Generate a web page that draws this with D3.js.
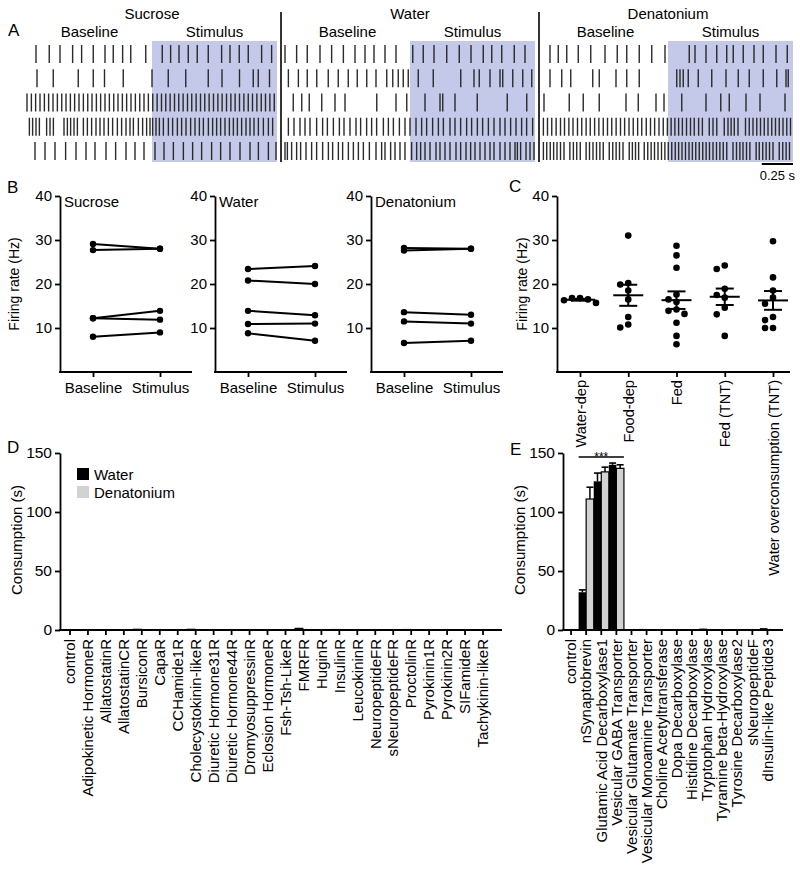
<!DOCTYPE html>
<html><head><meta charset="utf-8">
<script src="https://cdn.jsdelivr.net/npm/d3@7"></script>
<style>
body{margin:0;background:#fff}
text{font-family:"Liberation Sans",Arial,Helvetica,sans-serif;fill:#000}
</style></head><body>
<script>
// ---------------- DATA ----------------
// Panel A: spike times (s) in a 2 s window (0-1 baseline, 1-2 stimulus), 5 cells each
const sucroseSpikes = [
 [0.072,0.178,0.264,0.365,0.437,0.53,0.624,0.69,0.765,0.83,0.95,1.082,1.149,1.216,1.29,1.362,1.45,1.557,1.624,1.698,1.77,1.877,1.957],
 [0.08,0.21,0.41,0.53,0.62,0.77,1.0,1.13,1.27,1.45,1.56,1.70,1.81,1.85,1.94],
 [0.0,0.035,0.069,0.104,0.139,0.173,0.208,0.243,0.278,0.312,0.347,0.381,0.416,0.451,0.486,0.52,0.555,0.589,0.624,0.659,0.694,0.728,0.763,0.797,0.832,0.867,0.902,0.936,0.971,1.006,1.041,1.076,1.11,1.145,1.18,1.214,1.249,1.284,1.318,1.353,1.388,1.422,1.457,1.492,1.527,1.561,1.596,1.631,1.665,1.7,1.735,1.77,1.804,1.839,1.874,1.908,1.943,1.978],
 [0.019,0.045,0.072,0.099,0.157,0.184,0.211,0.296,0.323,0.349,0.376,0.403,0.451,0.483,0.517,0.552,0.584,0.616,0.651,0.685,0.723,0.757,0.792,0.824,0.851,0.891,0.925,0.957,0.984,1.005,1.032,1.059,1.091,1.131,1.165,1.203,1.237,1.272,1.309,1.344,1.379,1.411,1.451,1.485,1.517,1.549,1.584,1.619,1.651,1.683,1.717,1.752,1.784,1.816,1.851,1.891,1.931,1.965],
 [0.064,0.144,0.224,0.309,0.392,0.472,0.544,0.632,0.709,0.792,0.864,0.936,1.024,1.096,1.171,1.251,1.325,1.397,1.477,1.549,1.624,1.704,1.784,1.851,1.931,1.992]
];
const waterSpikes = [
 [0.0,0.093,0.178,0.28,0.373,0.467,0.56,0.64,0.712,0.80,0.888,1.022,1.106,1.192,1.294,1.394,1.488,1.586,1.654,1.734,1.834,1.92],
 [0.027,0.107,0.178,0.254,0.346,0.426,0.506,0.578,0.654,0.728,0.814,0.862,0.906,0.946,0.986,1.066,1.186,1.406,1.512,1.554,1.64,1.72,1.742,1.822,1.902,1.974],
 [0.066,0.134,0.194,0.294,0.40,0.48,0.734,0.888,0.974,1.12,1.24,1.262,1.36,1.538,1.778,1.934],
 [0.027,0.072,0.12,0.16,0.2,0.253,0.301,0.339,0.387,0.435,0.472,0.52,0.568,0.605,0.653,0.693,0.733,0.787,0.827,0.867,0.915,0.96,1.0,1.048,1.093,1.133,1.181,1.227,1.267,1.32,1.36,1.405,1.453,1.493,1.539,1.581,1.627,1.672,1.72,1.76,1.805,1.848,1.893,1.933,1.981],
 [0.0,0.019,0.053,0.093,0.125,0.168,0.213,0.253,0.301,0.347,0.381,0.427,0.461,0.507,0.547,0.587,0.627,0.675,0.728,0.773,0.8,0.845,0.88,0.92,0.96,1.013,1.053,1.085,1.12,1.16,1.208,1.24,1.28,1.32,1.368,1.405,1.448,1.485,1.52,1.56,1.6,1.64,1.672,1.72,1.76,1.8,1.84,1.859,1.885,1.928,1.96,1.992]
];
const denatoniumSpikes = [
 [0.056,0.122,0.19,0.282,0.382,0.496,0.594,0.67,0.77,0.87,0.976,1.17,1.216,1.304,1.39,1.47,1.522,1.602,1.688,1.762,1.864,1.954],
 [0.056,0.15,0.222,0.398,0.45,0.584,0.67,0.77,1.07,1.096,1.122,1.162,1.242,1.35,1.464,1.562,1.65,1.762,1.87,1.944,1.962],
 [0.008,0.21,0.322,0.45,0.664,0.762,0.904,0.968,1.11,1.304,1.422,1.49,1.624,1.736,1.936],
 [0.003,0.036,0.07,0.105,0.14,0.172,0.207,0.24,0.276,0.31,0.345,0.378,0.413,0.447,0.482,0.516,0.55,0.585,0.62,0.653,0.688,0.722,0.757,0.79,0.826,0.86,0.893,0.928,0.962,0.995,1.025,1.055,1.085,1.115,1.148,1.18,1.21,1.245,1.275,1.33,1.36,1.39,1.45,1.48,1.505,1.53,1.56,1.62,1.65,1.68,1.71,1.74,1.77,1.80,1.83,1.86,1.89,1.92,1.95,1.98],
 [0.003,0.03,0.058,0.085,0.112,0.14,0.168,0.215,0.243,0.27,0.298,0.345,0.372,0.4,0.428,0.455,0.482,0.53,0.558,0.585,0.612,0.64,0.69,0.715,0.74,0.765,0.81,0.838,0.865,0.892,0.92,0.948,0.975,1.002,1.03,1.058,1.085,1.112,1.14,1.168,1.195,1.222,1.25,1.278,1.305,1.332,1.36,1.388,1.415,1.442,1.47,1.52,1.548,1.575,1.6,1.628,1.655,1.705,1.73,1.758,1.785,1.812,1.84,1.89,1.918,1.945,1.972]
];
const scaleBarSeconds = 0.25;

// Panel B: firing rate (Hz), baseline vs stimulus
const phaseLabels = ['Baseline','Stimulus'];
const rateTicks = [10,20,30,40];
const sucroseBaseline = [29.1,27.7,12.2,12.2,8.0];
const sucroseStimulus = [28.0,28.0,13.9,11.9,9.0];
const waterBaseline = [23.4,20.8,13.9,10.9,8.8];
const waterStimulus = [24.1,20.0,12.9,11.0,7.1];
const denatoniumBaseline = [28.2,27.6,13.6,11.5,6.6];
const denatoniumStimulus = [28.0,28.0,13.0,11.0,7.1];

// Panel C: firing rate by state
const stateNames = ['Water-dep','Food-dep','Fed','Fed (TNT)','Water overconsumption (TNT)'];
const waterDepRates = [16.8,16.5,15.7,16.3,16.8];
const foodDepRates = [31.0,20.2,19.9,18.5,16.5,12.5,10.8,10.1];
const fedRates = [28.7,26.5,23.7,17.6,16.5,15.9,14.2,13.9,13.2,11.2,8.2,6.3];
const fedTNTRates = [24.2,23.4,18.9,17.5,16.9,14.6,13.1,8.2];
const waterOverTNTRates = [29.7,21.5,18.5,16.9,15.5,12.5,11.8,10.0,10.0];

// Panel D: neuropeptide receptor screen, consumption (s)
const consTicks = [0,50,100,150];
const seriesNames = ['Water','Denatonium'];
const dCategories = ['control','Adipokinetic HormoneR','AllatostatinR','AllatostatinCR','BursiconR','CapaR','CCHamide1R','Cholecystokinin-likeR','Diuretic Hormone31R','Diuretic Hormone44R','DromyosuppressinR','Eclosion HormoneR','Fsh-Tsh-LikeR','FMRFR','HuginR','InsulinR','LeucokininR','NeuropeptideFR','sNeuropeptideFR','ProctolinR','Pyrokinin1R','Pyrokinin2R','SIFamideR','Tachykinin-likeR'];
const dWater = [0.5,0.6,0.5,0.3,1.1,0.4,0.3,1.1,0.5,0.2,0.4,0.3,0.4,1.9,0.2,0.9,0.2,0.2,0.2,0.9,0.4,0.2,0.2,0.5];
const dDenatonium = [0.3,0.4,0.3,0.2,0.7,0.3,0.2,0.6,0.3,0.2,0.3,0.2,0.3,1.1,0.2,0.5,0.2,0.2,0.2,0.5,0.3,0.2,0.2,0.3];

// Panel E: neurotransmitter screen, consumption (s)
const eCategories = ['control','nSynaptobrevin','Glutamic Acid Decarboxylase1','Vesicular GABA Transporter','Vesicular Glutamate Transporter','Vesicular Monoamine Transporter','Choline Acetyltransferase','Dopa Decarboxylase','Histidine Decarboxylase','Tryptophan Hydroxylase','Tyramine beta-Hydroxylase','Tyrosine Decarboxylase2','sNeuropeptideF','dInsulin-like Peptide3'];
const eWater = [0.2,32,126,140,0.3,0.9,0.2,0.2,0.5,1.2,0.4,0.8,0.2,1.6];
const eWaterErr = [0.1,2,7,1.5,0.2,0.4,0.1,0.1,0.2,0.5,0.2,0.3,0.1,0.6];
const eDenatonium = [0.1,111,134,137,0.2,0.5,0.1,0.1,0.3,0.7,0.3,0.4,0.1,0.8];
const eDenatoniumErr = [0.1,10,4,3,0.1,0.2,0.1,0.1,0.1,0.3,0.1,0.2,0.1,0.3];
const sigLabel = '***';

// ---------------- DRAWING ----------------
const FONT = '"Liberation Sans", Arial, Helvetica, sans-serif';
const SHADE = '#c4c9e9';
const GRAY = '#d2d2d2';
const AX = 1.8;
const svg = d3.select('body').append('svg').attr('width',800).attr('height',870);

function styleAxis(g, fs){
  g.attr('font-family',FONT).attr('font-size',fs);
  g.selectAll('path,line').attr('stroke','#000').attr('stroke-width',AX);
  g.selectAll('text').attr('fill','#000');
}
function hline(x1,x2,y,w){
  svg.append('line').attr('x1',x1).attr('x2',x2).attr('y1',y).attr('y2',y).attr('stroke','#000').attr('stroke-width',w||AX);
}
function label(txt,x,y,fs,anchor){
  return svg.append('text').attr('x',x).attr('y',y).attr('font-size',fs).attr('text-anchor',anchor||'start').text(txt);
}
function vlabel(txt,x,y,fs){
  return svg.append('text').attr('transform',`translate(${x},${y}) rotate(-90)`).attr('font-size',fs).attr('text-anchor','middle').text(txt);
}

// ===== Panel A =====
label('A',8,36,17);
const rasterConds = [
  {name:'Sucrose',x0:27,spikes:sucroseSpikes},
  {name:'Water',x0:285,spikes:waterSpikes},
  {name:'Denatonium',x0:543,spikes:denatoniumSpikes}
];
const rowY = d3.scalePoint().domain(d3.range(5)).range([54,151]);
rasterConds.forEach((c,ci)=>{
  const x = d3.scaleLinear().domain([0,2]).range([c.x0,c.x0+250]);
  svg.append('rect').attr('x',x(1)).attr('y',41).attr('width',x(2)-x(1)).attr('height',121).attr('fill',SHADE);
  c.spikes.forEach((row,i)=>{
    svg.append('g').selectAll('line').data(row).join('line')
      .attr('x1',d=>x(d)).attr('x2',d=>x(d))
      .attr('y1',rowY(i)-9).attr('y2',rowY(i)+9)
      .attr('stroke','#2a2a2a').attr('stroke-width',1.4);
  });
  label(c.name,x(1),19,15,'middle');
  label(phaseLabels[0],x(0.5),37,15,'middle');
  label(phaseLabels[1],x(1.5),37,15,'middle');
  if(ci>0){
    svg.append('line').attr('x1',c.x0-4).attr('x2',c.x0-4).attr('y1',12).attr('y2',162).attr('stroke','#000').attr('stroke-width',1.6);
  }
  if(ci===2){
    hline(x(2-scaleBarSeconds),x(2),164,2);
    label(scaleBarSeconds+' s',x(2-scaleBarSeconds/2),180,13,'middle');
  }
});

// ===== Panel B =====
label('B',7,193,17);
const rateY = d3.scaleLinear().domain([0,40]).range([372,196]);
vlabel('Firing rate  (Hz)',19,284,14);
const bPanels = [
  {title:'Sucrose',x0:60,base:sucroseBaseline,stim:sucroseStimulus},
  {title:'Water',x0:215,base:waterBaseline,stim:waterStimulus},
  {title:'Denatonium',x0:371,base:denatoniumBaseline,stim:denatoniumStimulus}
];
bPanels.forEach(p=>{
  const x = d3.scalePoint().domain(phaseLabels).range([p.x0+33,p.x0+100]);
  const ya = svg.append('g').attr('transform',`translate(${p.x0},0)`)
    .call(d3.axisLeft(rateY).tickValues(rateTicks).tickSize(5).tickSizeOuter(0).tickPadding(3));
  styleAxis(ya,15);
  const xa = svg.append('g').attr('transform','translate(0,372)')
    .call(d3.axisBottom(x).tickSize(5).tickPadding(5));
  xa.select('.domain').remove();
  styleAxis(xa,15);
  hline(p.x0-0.9,p.x0+132,372);
  const g = svg.append('g');
  g.selectAll('line').data(p.base).join('line')
    .attr('x1',x(phaseLabels[0])).attr('x2',x(phaseLabels[1]))
    .attr('y1',d=>rateY(d)).attr('y2',(d,i)=>rateY(p.stim[i]))
    .attr('stroke','#000').attr('stroke-width',2);
  g.selectAll('circle.b').data(p.base).join('circle').attr('class','b')
    .attr('cx',x(phaseLabels[0])).attr('cy',d=>rateY(d)).attr('r',3.2);
  g.selectAll('circle.s').data(p.stim).join('circle').attr('class','s')
    .attr('cx',x(phaseLabels[1])).attr('cy',d=>rateY(d)).attr('r',3.2);
  label(p.title,p.x0+4,207,15);
});

// ===== Panel C =====
label('C',509,192,17);
vlabel('Firing rate  (Hz)',527,284,14);
const cx = d3.scalePoint().domain(stateNames).range([580,773]);
const cya = svg.append('g').attr('transform','translate(557,0)')
  .call(d3.axisLeft(rateY).tickValues(rateTicks).tickSize(5).tickSizeOuter(0).tickPadding(3));
styleAxis(cya,15);
const cxa = svg.append('g').attr('transform','translate(0,372)')
  .call(d3.axisBottom(cx).tickSize(5));
cxa.select('.domain').remove();
styleAxis(cxa,14.6);
cxa.selectAll('text').attr('transform','rotate(-90)').attr('text-anchor','end')
  .attr('x',-8).attr('y',0).attr('dy','0.35em');
hline(556.1,790,372);
const stateData = [waterDepRates,foodDepRates,fedRates,fedTNTRates,waterOverTNTRates];
function dodge(vals,center,step,minD){
  const placed=[];
  vals.slice().sort((a,b)=>b-a).forEach(v=>{
    const py=rateY(v);
    for(const k of [0,-1,1,-2,2,-3,3]){
      const px=center+k*step;
      if(placed.every(q=>Math.hypot(q.x-px,q.y-py)>=minD)){placed.push({x:px,y:py});break;}
    }
  });
  return placed;
}
stateData.forEach((vals,i)=>{
  const c = cx(stateNames[i]);
  const pts = dodge(vals,c,8,7);
  svg.append('g').selectAll('circle').data(pts).join('circle')
    .attr('cx',d=>d.x).attr('cy',d=>d.y).attr('r',3.3).attr('fill','#000');
  const m = d3.mean(vals), se = d3.deviation(vals)/Math.sqrt(vals.length);
  hline(c-15,c+15,rateY(m),2);
  hline(c-9,c+9,rateY(m+se),2);
  hline(c-9,c+9,rateY(m-se),2);
  svg.append('line').attr('x1',c).attr('x2',c).attr('y1',rateY(m+se)).attr('y2',rateY(m-se)).attr('stroke','#000').attr('stroke-width',2);
});

// ===== Panels D & E =====
const consY = d3.scaleLinear().domain([0,150]).range([630,453]);
function barPanel(opts){
  const x = d3.scaleBand().domain(opts.cats).range(opts.range).padding(0);
  const bw = x.bandwidth()/2;
  const ya = svg.append('g').attr('transform',`translate(${opts.x0},0)`)
    .call(d3.axisLeft(consY).tickValues(consTicks).tickSize(5).tickSizeOuter(0).tickPadding(3));
  styleAxis(ya,15.5);
  const g = svg.append('g');
  g.selectAll('rect.w').data(opts.water).join('rect').attr('class','w')
    .attr('x',(d,i)=>x(opts.cats[i])).attr('width',bw)
    .attr('y',d=>consY(d)).attr('height',d=>consY(0)-consY(d))
    .attr('fill','#000');
  g.selectAll('rect.d').data(opts.den).join('rect').attr('class','d')
    .attr('x',(d,i)=>x(opts.cats[i])+bw).attr('width',bw)
    .attr('y',d=>consY(d)).attr('height',d=>consY(0)-consY(d))
    .attr('fill',GRAY).attr('stroke','#000').attr('stroke-width',d=>d>5?1.2:0);
  if(opts.werr){
    const eb=(vals,errs,off)=>{
      vals.forEach((v,i)=>{
        if(v<5) return;
        const cxp = x(opts.cats[i])+off+bw/2;
        svg.append('line').attr('x1',cxp).attr('x2',cxp).attr('y1',consY(v)).attr('y2',consY(v+errs[i])).attr('stroke','#000').attr('stroke-width',1.5);
        hline(cxp-3.5,cxp+3.5,consY(v+errs[i]),1.6);
      });
    };
    eb(opts.water,opts.werr,0);
    eb(opts.den,opts.derr,bw);
  }
  const xa = svg.append('g').attr('transform','translate(0,630)')
    .call(d3.axisBottom(x).tickSize(5));
  xa.select('.domain').remove();
  styleAxis(xa,15);
  xa.selectAll('text').attr('transform','rotate(-90)').attr('text-anchor','end')
    .attr('x',-9).attr('y',0).attr('dy','0.35em');
  hline(opts.x0-0.9,opts.xEnd,630);
  return x;
}

// D
label('D',7,453,17);
vlabel('Consumption (s)',22,540,15);
barPanel({cats:dCategories,range:[61,492],x0:60,xEnd:502,water:dWater,den:dDenatonium});
svg.append('rect').attr('x',77).attr('y',468).attr('width',12).attr('height',12).attr('fill','#000');
svg.append('rect').attr('x',77).attr('y',486).attr('width',12).attr('height',12).attr('fill',GRAY);
label(seriesNames[0],94,480,15);
label(seriesNames[1],94,498,15);

// E
label('E',510,455,17);
vlabel('Consumption (s)',525,540,15);
const ex = barPanel({cats:eCategories,range:[563.5,775],x0:563,xEnd:783,water:eWater,den:eDenatonium,werr:eWaterErr,derr:eDenatoniumErr});
const sx1 = ex(eCategories[1]), sx2 = ex(eCategories[3])+ex.bandwidth();
hline(sx1,sx2,457,1.3);
label(sigLabel,(sx1+sx2)/2,461,12,'middle');
</script></body></html>
